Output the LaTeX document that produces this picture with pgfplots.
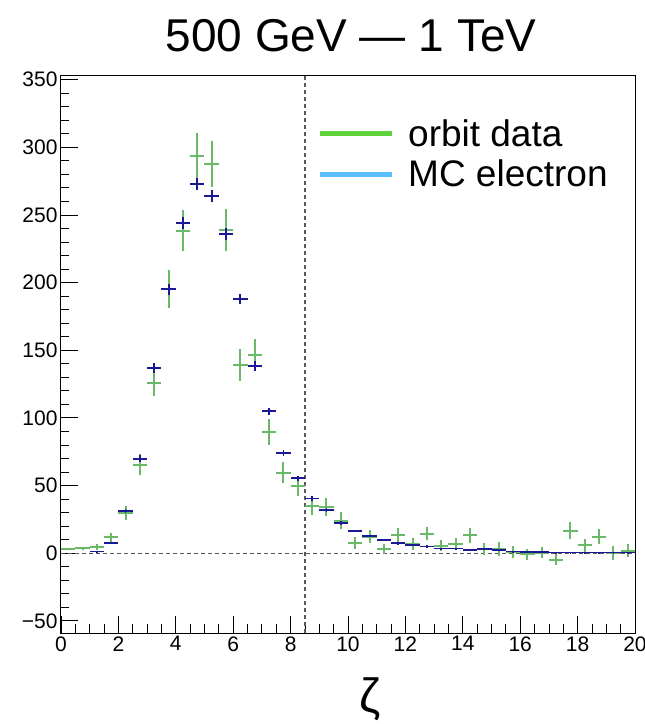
\documentclass[border=0pt]{standalone}
\usepackage{pgfplots}
\pgfplotsset{compat=1.18}
\usepackage{fontspec}
\setmainfont{Liberation Sans}
\definecolor{legGreen}{RGB}{95,210,60}
\definecolor{legBlue}{RGB}{90,190,255}
\definecolor{dataGreen}{RGB}{105,185,105}
\definecolor{dataBlue}{RGB}{25,25,150}
\begin{document}
\begin{tikzpicture}
\begin{axis}[
  at={(0pt,0pt)}, anchor=south west,
  scale only axis, width=574pt, height=557pt,
  xmin=0, xmax=20, ymin=-59, ymax=352.7,
  xtick={0,2,...,20}, minor x tick num=3,
  ytick={-50,0,...,350}, minor y tick num=4,
  yticklabels={−50,0,50,100,150,200,250,300,350},
  xtick pos=bottom, ytick pos=left,
  major tick length=17pt, minor tick length=8.5pt,
  tick style={black, line width=0.8pt},
  tick label style={font=\fontsize{21}{25}\selectfont},
  /pgf/number format/assume math mode=true,
  axis line style={black, line width=1pt},
  legend style={draw=none, fill=none, at={(axis cs:8.92,322)}, anchor=north west,
    font=\fontsize{37}{44}\selectfont, inner sep=0pt, row sep=8pt,
    /tikz/every odd column/.append style={column sep=12pt}},
  legend cell align=left,
]
\addplot[gray!70!black, line width=1.3pt, dash pattern=on 4pt off 3pt, forget plot] coordinates {(0,0) (20,0)};
\addplot[gray!70!black, line width=1.3pt, dash pattern=on 4pt off 3pt, forget plot] coordinates {(8.5,-59) (8.5,352.7)};

\addlegendimage{legend image code/.code={\draw[legGreen, line width=5pt] (0pt,0pt) -- (72pt,0pt);}}
\addlegendentry{orbit data}
\addlegendimage{legend image code/.code={\draw[legBlue, line width=5pt] (0pt,0pt) -- (72pt,0pt);}}
\addlegendentry{MC electron}

% orbit data
\addplot[draw=none, mark=none, forget plot,
  error bars/.cd, x dir=both, x explicit, y dir=both, y explicit, error mark=none,
  error bar style={draw=dataGreen, line width=2pt}]
table[x=x, y=y, x error=ex, y error=ey] {
x y ex ey
0.25 3 0.25 1
0.75 3.5 0.25 1
1.25 4.7 0.25 2
1.75 11.8 0.25 3.2
2.25 29.6 0.25 5
2.75 65.5 0.25 8
3.25 125.8 0.25 9.5
3.75 195 0.25 14
4.25 238.4 0.25 15.4
4.75 293.6 0.25 17
5.25 287.7 0.25 17
5.75 238.6 0.25 15.5
6.25 138.9 0.25 11.8
6.75 146.3 0.25 12
7.25 89.4 0.25 9.7
7.75 59.6 0.25 8
8.25 49.7 0.25 7.4
8.75 35 0.25 6.8
9.25 34 0.25 6.5
9.75 24.1 0.25 6
10.25 7.4 0.25 4.4
10.75 12.3 0.25 4.5
11.25 2.9 0.25 3.7
11.75 13.3 0.25 5
12.25 6.9 0.25 4.3
12.75 14.5 0.25 5
13.25 5.6 0.25 4.3
13.75 6.9 0.25 4.3
14.25 13.3 0.25 5.5
14.75 2.9 0.25 4.5
15.25 2.9 0.25 5
15.75 1 0.25 4.3
16.25 -0.7 0.25 4
16.75 0.5 0.25 4
17.25 -4.9 0.25 4
17.75 16.7 0.25 6
18.25 5.9 0.25 4.8
18.75 12.3 0.25 5.8
19.25 0 0.25 5
19.75 1.9 0.25 5
};

% MC electron
\addplot[draw=none, mark=none, forget plot,
  error bars/.cd, x dir=both, x explicit, y dir=both, y explicit, error mark=none,
  error bar style={draw=dataBlue, line width=1.8pt}]
table[x=x, y=y, x error=ex, y error=ey] {
x y ex ey
1.25 1.2 0.25 0.5
1.75 7.4 0.25 0.7
2.25 31.3 0.25 1.5
2.75 69.9 0.25 2.5
3.25 136.7 0.25 3.5
3.75 195 0.25 4
4.25 244.3 0.25 4.5
4.75 272.6 0.25 4.5
5.25 263.8 0.25 4.5
5.75 236 0.25 4.5
6.25 187.7 0.25 3.5
6.75 138.2 0.25 3.5
7.25 104.9 0.25 2.5
7.75 74.1 0.25 2
8.25 55.4 0.25 2
8.75 40.4 0.25 1.5
9.25 31.8 0.25 1.5
9.75 22.6 0.25 1.5
10.25 16.5 0.25 1
10.75 12.8 0.25 1
11.25 9.8 0.25 1
11.75 7.4 0.25 1
12.25 6.1 0.25 0.8
12.75 4.9 0.25 0.8
13.25 3.4 0.25 0.6
13.75 3.4 0.25 0.6
14.25 2.2 0.25 0.5
14.75 2.9 0.25 0.5
15.25 2.2 0.25 0.5
15.75 1.2 0.25 0.4
16.25 1 0.25 0.3
16.75 1 0.25 0.3
17.25 0.5 0.25 0.3
17.75 0.5 0.25 0.3
18.25 0.5 0.25 0.3
18.75 0.5 0.25 0.3
19.25 0.5 0.25 0.3
19.75 0.5 0.25 0.3
};
\end{axis}
\node[anchor=base, font=\fontsize{46}{50}\selectfont] at (290pt,581pt) {500 GeV — 1 TeV};
\node[anchor=base, font=\fontsize{48}{52}\selectfont] at (309pt,-79pt) {ζ};
\pgfresetboundingbox
\path[use as bounding box] (-61pt,-91pt) rectangle (584pt,633pt);
\end{tikzpicture}
\end{document}
